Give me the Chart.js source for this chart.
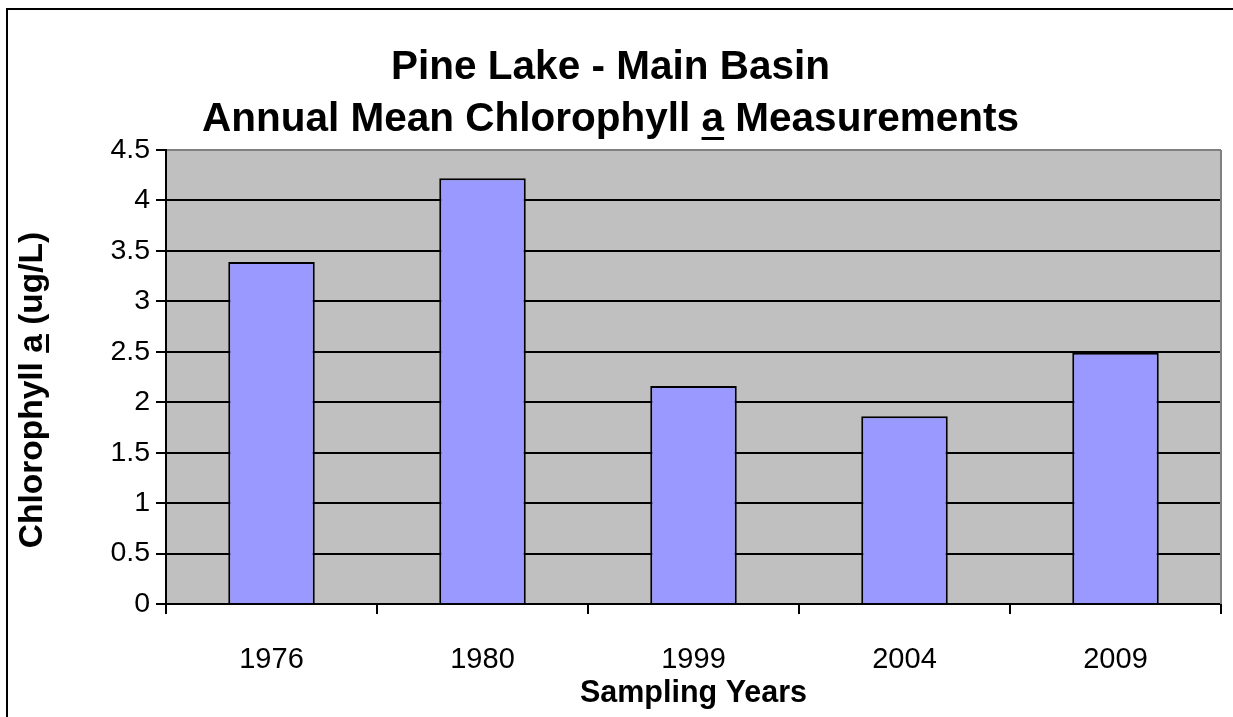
<!DOCTYPE html>
<html>
<head>
<meta charset="utf-8">
<script src="https://cdn.jsdelivr.net/npm/chart.js@4"></script>
<style>
  html, body { margin: 0; padding: 0; background: #fff; overflow: hidden; }
  #mainChart { display: block; }
</style>
</head>
<body>
<canvas id="mainChart" width="1233" height="717"></canvas>
<script>
// Chart data
const years = ['1976', '1980', '1999', '2004', '2009'];
const chlorophyll = [3.39, 4.22, 2.16, 1.86, 2.49];
const titleLines = ['Pine Lake - Main Basin', 'Annual Mean Chlorophyll a Measurements'];
const yTitle = 'Chlorophyll a (ug/L)';
const xTitle = 'Sampling Years';

const FONT = '"Liberation Sans", Arial, sans-serif';

// outer frame, grey plot background, right edge, underlined "a" and the y axis title
const plotFrame = {
    id: 'plotFrame',
    beforeDraw(chart) {
        const { ctx, chartArea: a } = chart;
        ctx.save();
        // chart frame: only its top and left edges fall inside the picture
        ctx.fillStyle = '#000';
        ctx.fillRect(6, 8, chart.width - 6, 2);
        ctx.fillRect(6, 8, 2, chart.height - 8);
        ctx.fillStyle = '#C0C0C0';
        ctx.fillRect(a.left, a.top, a.right - a.left, a.bottom - a.top);
        ctx.restore();
    },
    afterDraw(chart) {
        const { ctx, chartArea: a } = chart;
        ctx.save();
        ctx.strokeStyle = '#808080';
        ctx.lineWidth = 2;
        ctx.beginPath();
        ctx.moveTo(a.right, a.top);
        ctx.lineTo(a.right, a.bottom);
        ctx.stroke();

        // underline the "a" in the second title line
        const tb = chart.titleBlock;
        ctx.font = 'bold 40.5px ' + FONT;
        const line = titleLines[1];
        const cx = (tb.left + tb.right) / 2;
        const full = ctx.measureText(line).width;
        const pre = ctx.measureText('Annual Mean Chlorophyll ').width;
        const aw = ctx.measureText('a').width;
        const x0 = cx - full / 2 + pre;
        const yLine = tb.top + 42 + 52 + 26 + 17;
        ctx.fillStyle = '#000';
        ctx.fillRect(x0, yLine, aw, 3);

        // y axis title, rotated
        ctx.translate(33, 390);
        ctx.rotate(-Math.PI / 2);
        ctx.font = 'bold 33.5px ' + FONT;
        ctx.textAlign = 'center';
        ctx.textBaseline = 'middle';
        ctx.fillText(yTitle, 0, 0);
        const yFull = ctx.measureText(yTitle).width;
        const yPre = ctx.measureText('Chlorophyll ').width;
        const yA = ctx.measureText('a').width;
        ctx.fillRect(-yFull / 2 + yPre, 13, yA, 3);
        ctx.restore();
    }
};

const ctx = document.getElementById('mainChart').getContext('2d');

new Chart(ctx, {
    type: 'bar',
    data: {
        labels: years,
        datasets: [{
            data: chlorophyll,
            backgroundColor: '#9999FF',
            borderColor: '#000',
            borderWidth: 2,
            barPercentage: 0.41,
            categoryPercentage: 1
        }]
    },
    options: {
        responsive: false,
        animation: false,
        devicePixelRatio: 1,
        layout: { padding: { left: 0, right: 12, top: 0, bottom: 0 } },
        plugins: {
            legend: { display: false },
            tooltip: { enabled: false },
            title: {
                display: true,
                text: titleLines,
                color: '#000',
                font: { family: FONT, size: 40.5, weight: 'bold', lineHeight: '52px' },
                padding: { top: 42, bottom: 4 }
            }
        },
        scales: {
            x: {
                afterFit: (scale) => { scale.height = 113; },
                grid: {
                    offset: true,
                    drawOnChartArea: false,
                    drawTicks: true,
                    tickLength: 10,
                    tickColor: '#000',
                    lineWidth: 2
                },
                border: { display: true, color: '#000', width: 2 },
                ticks: {
                    color: '#000',
                    font: { family: FONT, size: 29 },
                    padding: 29
                },
                title: {
                    display: true,
                    text: xTitle,
                    color: '#000',
                    font: { family: FONT, size: 30.5, weight: 'bold', lineHeight: 1.2 },
                    padding: { top: 0, bottom: 5 }
                }
            },
            y: {
                min: 0,
                max: 4.5,
                afterFit: (scale) => { scale.width = 166; },
                grid: {
                    color: (c) => (c.tick && c.tick.value === 4.5 ? '#808080' : '#000'),
                    lineWidth: 2,
                    drawTicks: true,
                    tickLength: 10,
                    tickColor: '#000'
                },
                border: { display: true, color: '#000', width: 2 },
                ticks: {
                    stepSize: 0.5,
                    color: '#000',
                    font: { family: FONT, size: 28.5 },
                    padding: 6,
                    callback: (v) => String(v)
                }
            }
        }
    },
    plugins: [plotFrame]
});
</script>
</body>
</html>
